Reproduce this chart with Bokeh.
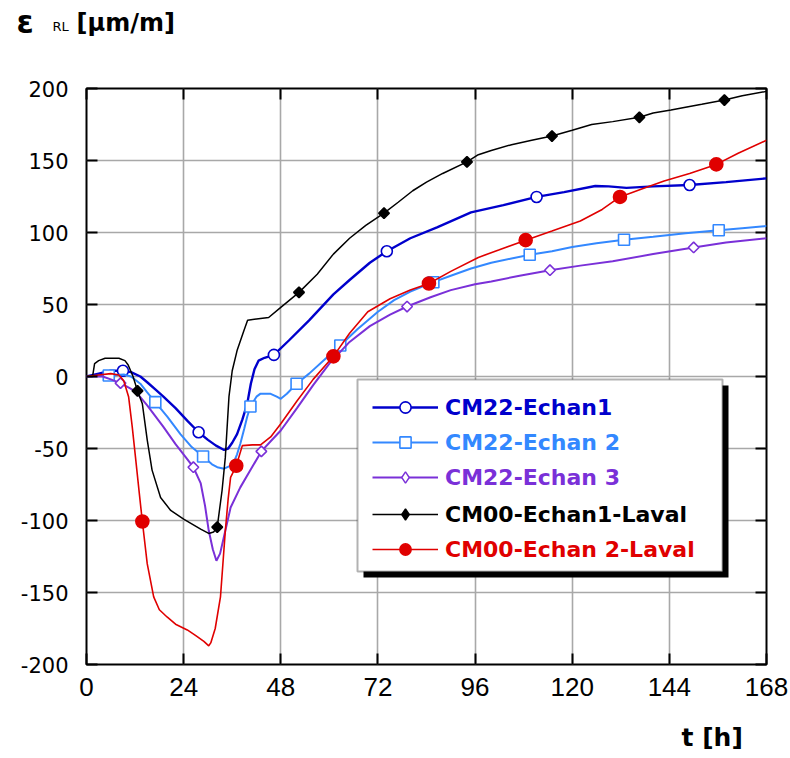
import numpy as np
from bokeh.plotting import figure
from bokeh.layouts import column
from bokeh.models import (Range1d, LinearAxis, FixedTicker, Legend, LegendItem,
                          BoxAnnotation)
from bokeh.core.properties import value
from bokeh.embed import file_html
from bokeh.resources import INLINE

# ---------------- data ----------------
X_TICKS = [0, 24, 48, 72, 96, 120, 144, 168]
Y_TICKS = [-200, -150, -100, -50, 0, 50, 100, 150, 200]

LABELS = ["CM22-Echan1", "CM22-Echan 2", "CM22-Echan 3",
          "CM00-Echan1-Laval", "CM00-Echan 2-Laval"]

# CM22-Echan1
t_e1 = [0, 3, 6, 9, 11, 13.3, 15, 17, 19, 22, 25, 27.7, 30, 32, 34, 35, 36, 37.2,
        38.5, 39.7, 40.6, 41.5, 42.5, 44, 46.3, 50, 55, 61, 65, 70, 74.2, 80, 86.6,
        95, 103, 111.2, 118, 125.7, 129, 133.4, 140, 149, 158, 168]
v_e1 = [0, 2, 4, 4, 3, 0, -4, -9, -14, -22, -31, -38.7, -44, -48, -51, -50, -46, -40,
        -30, -19, -5, 5, 11, 13, 15, 25, 39, 57, 67, 79, 87, 96, 103.5,
        114, 119, 124.7, 128, 132.3, 132, 131, 132, 133, 135, 137.6]
mt_e1 = [9, 27.7, 46.3, 74.2, 111.2, 149]
mv_e1 = [4, -38.7, 15, 87, 124.7, 133]

# CM22-Echan 2
t_e2 = [0, 3, 5.5, 9.2, 11, 13.3, 15, 17, 20, 23.2, 26, 28.8, 31, 32.3, 34, 35.5,
        36.4, 37.2, 38, 39, 39.7, 40.5, 42, 43, 45.5, 47, 48, 49.5, 51.9, 55, 58.5,
        62.7, 67, 72, 76, 80, 85.7, 90, 95, 100, 105, 109.5, 115, 120, 126, 132.8,
        140, 148, 156.2, 162, 168]
v_e2 = [0, 0.5, 0.7, 1.4, 0, -5, -11, -17.8, -28, -40, -49, -55.6, -61, -63, -64, -62,
        -59.5, -54, -46.7, -36, -28, -20.8, -14, -11.9, -12, -14, -15.5, -12, -5, 2, 11,
        21.5, 33, 45, 53, 59, 65.5, 70, 75, 79, 82, 84.5, 87, 90, 92.5, 95,
        97, 99.5, 101.6, 103, 104.5]
mt_e2 = [5.5, 17, 28.8, 40.5, 51.9, 62.7, 85.7, 109.5, 132.8, 156.2]
mv_e2 = [0.7, -17.8, -55.6, -20.8, -5, 21.5, 65.5, 84.5, 95, 101.6]

# CM22-Echan 3
t_e3 = [0, 4, 6, 8.4, 10, 12.1, 15, 19, 22, 24.5, 26.4, 28.2, 29.3, 30.2, 31.2, 32.1,
        33, 33.9, 35.6, 38, 40.5, 43.2, 45.5, 48, 52, 56, 60, 65, 70, 75, 79.2, 85,
        90, 96, 100, 107, 114.5, 122, 130, 140, 150, 158, 168]
v_e3 = [0, 0, -2, -4.6, -7, -10.4, -20, -35, -47, -56, -63, -74, -90, -107, -120, -128,
        -123, -112, -91, -77, -65, -52, -45, -37.5, -22, -6, 9, 24, 35, 43, 48.6, 55,
        60, 64, 66, 70, 73.8, 77, 80, 85, 89.6, 93, 96]
mt_e3 = [8.4, 26.4, 43.2, 79.2, 114.5, 150]
mv_e3 = [-4.6, -63, -52, 48.6, 73.8, 89.6]

# CM00-Echan1-Laval
t_l1 = [0, 1.5, 2, 3, 4.6, 8, 9.5, 10.3, 11.5, 12.6, 13.8, 15, 16.2, 18.3, 20.8, 24,
        28.2, 30.2, 31.4, 32.3, 33.5, 34.3, 35.2, 36, 37.2, 38.9, 39.8, 42, 45, 48,
        52.5, 57, 61, 65, 69, 73.5, 77, 80.6, 84, 88, 94, 96.8, 100, 105, 110, 115,
        120, 124.8, 130, 136.6, 140, 144.4, 148, 152, 157.6, 162, 168]
v_l1 = [0, 0, 9, 11, 12.7, 12.7, 11, 8, 0, -10, -19, -44, -65, -84, -93, -99,
        -106, -109, -108, -104.6, -79, -56, -14, 4, 18, 32, 39, 40, 41, 48,
        58.4, 71, 85, 96, 105, 113.4, 121, 129, 135, 141, 149, 154, 157, 161, 164, 167,
        171, 175, 177, 180, 183, 185, 187, 189, 192, 195, 198]
mt_l1 = [12.6, 32.3, 52.5, 73.5, 94, 115, 136.6, 157.6]
mv_l1 = [-10, -104.6, 58.4, 113.4, 149, 167, 180, 192]

# CM00-Echan 2-Laval
t_l2 = [0, 3, 6, 8, 9.2, 10.4, 11.3, 12.1, 13, 13.8, 15, 16.6, 18, 19.9, 22, 24.9, 27,
        29, 30.2, 30.7, 31.8, 33.1, 33.7, 34.3, 35, 35.6, 37, 38.5, 41, 43, 45.5, 48,
        52, 56, 61, 65, 69.5, 75, 80, 84.6, 90, 96.8, 102, 108.5, 115, 122, 127.4,
        131.8, 137, 142.7, 149, 155.6, 161, 168]
v_l2 = [0, 1, 2, 1, -3, -14, -35, -56, -80, -100.7, -130, -153, -162, -167, -172, -176, -180,
        -184, -187, -185, -175, -153, -130, -107, -85, -70, -62, -48, -47.5, -47.5, -42, -32.8,
        -17, -2, 14, 30, 45, 54, 60, 64.6, 73, 82.7, 88, 94.7, 101, 108, 116,
        124.7, 130, 135.8, 141, 147.3, 155, 164]
mt_l2 = [13.8, 37, 61, 84.6, 108.5, 131.8, 155.6]
mv_l2 = [-100.7, -62, 14, 64.6, 94.7, 124.7, 147.3]

# ---------------- layout / style ----------------
W, H = 790, 758
HEAD = 48                                  # header strip (y title)
FOOT = 42                                  # footer strip (x title)
BL, BR, BT, BB = 86, 24, 88, 94            # frame borders in the full canvas (px)
FW, FH = W - BL - BR, H - BT - BB
X0, X1, Y0, Y1 = 0, 168, -200, 200

def tx(px):   # canvas px -> t (for placing the legend frame)
    return X0 + (px - BL) / FW * (X1 - X0)

def vy(py):   # canvas py -> value
    return Y1 - (py - BT) / FH * (Y1 - Y0)

def no_align(fig):
    if "frame_align" in type(fig).properties():
        fig.frame_align = False

def strip(h):
    f = figure(frame_width=W, frame_height=h, x_range=Range1d(0, W), y_range=Range1d(h, 0),
               output_backend="svg", toolbar_location=None,
               x_axis_location=None, y_axis_location=None, min_border=0)
    f.outline_line_color = None
    f.grid.visible = False
    f.background_fill_color = "white"
    f.border_fill_color = "white"
    no_align(f)
    return f

# ---- header with the y-axis title ----
hp = strip(HEAD)
hp.text(x=[16], y=[21], text=["ε"], text_font=value("DejaVu Sans"),
        text_font_style="bold", text_font_size="31px", text_baseline="alphabetic",
        text_color="black")
hp.text(x=[52], y=[26], text=["RL"], text_font=value("DejaVu Sans"),
        text_font_size="13px", text_baseline="alphabetic", text_color="black")
hp.text(x=[76], y=[22], text=["[µm/m]"], text_font=value("DejaVu Sans"),
        text_font_style="bold", text_font_size="24px", text_baseline="alphabetic",
        text_color="black")

# ---- footer with the x-axis title ----
fp = strip(FOOT)
fp.text(x=[681], y=[21], text=["t [h]"], text_font=value("DejaVu Sans"),
        text_font_style="bold", text_font_size="25px", text_baseline="alphabetic",
        text_color="black")

# ---- main plot ----
p = figure(frame_width=FW, frame_height=FH, x_range=Range1d(X0, X1), y_range=Range1d(Y0, Y1),
           output_backend="svg", toolbar_location=None,
           min_border_left=BL, min_border_right=BR, min_border_top=BT - HEAD,
           min_border_bottom=BB - FOOT)
no_align(p)
p.background_fill_color = "white"
p.border_fill_color = "white"
p.outline_line_color = "black"
p.outline_line_width = 2

xt = FixedTicker(ticks=X_TICKS)
yt = FixedTicker(ticks=Y_TICKS)

def style_axis(ax):
    ax.axis_line_color = None
    ax.major_tick_in = 11
    ax.major_tick_out = 0
    ax.major_tick_line_color = "black"
    ax.major_tick_line_width = 2
    ax.minor_tick_line_color = None

xa = p.xaxis[0]
xa.ticker = xt
style_axis(xa)
xa.major_label_text_font = "Liberation Sans"
xa.major_label_text_font_size = "26px"
xa.major_label_text_color = "black"
xa.major_label_standoff = 13

ya = p.yaxis[0]
ya.ticker = yt
style_axis(ya)
ya.major_label_text_font = "DejaVu Sans"
ya.major_label_text_font_size = "21px"
ya.major_label_text_color = "black"
ya.major_label_standoff = 18
ya.major_label_overrides = {k: str(k) for k in Y_TICKS}

top = LinearAxis(ticker=FixedTicker(ticks=X_TICKS),
                 major_label_overrides={k: "" for k in X_TICKS})
style_axis(top)
p.add_layout(top, "above")
right = LinearAxis(ticker=FixedTicker(ticks=Y_TICKS),
                   major_label_overrides={k: "" for k in Y_TICKS})
style_axis(right)
p.add_layout(right, "right")

for g in (p.xgrid[0], p.ygrid[0]):
    g.grid_line_color = "#a8a8a8"
    g.grid_line_width = 1.6
p.xgrid[0].ticker = xt
p.ygrid[0].ticker = yt

# (t, v, marker t, marker v, colour, line width, marker, size, angle, fill, legend marker)
series = [
    (t_e1, v_e1, mt_e1, mv_e1, "#0000CC", 2.4, "circle", 11, 0, "white", "circle"),
    (t_e2, v_e2, mt_e2, mv_e2, "#3388FF", 2.0, "square", 11, 0, "white", "square"),
    (t_e3, v_e3, mt_e3, mv_e3, "#7A30D8", 2.0, "square", 7.5, np.pi / 4, "white", "diamond"),
    (t_l1, v_l1, mt_l1, mv_l1, "#000000", 1.5, "square", 7.5, np.pi / 4, "#000000", "diamond"),
    (t_l2, v_l2, mt_l2, mv_l2, "#E00000", 1.6, "circle", 13, 0, "#E00000", "circle"),
]

rends = []
for (t, v, mt, mv, col, lw, mk, sz, ang, fill, lmk) in series:
    lr = p.line(t, v, line_color=col, line_width=lw)
    key = None
    if lmk != mk:
        # key glyph (a true diamond); drawn under the rotated squares, hidden by them
        key = p.scatter(mt, mv, marker=lmk, size=8, fill_color=fill,
                        line_color=col, line_width=1.4)
    sr = p.scatter(mt, mv, marker=mk, size=sz, angle=ang, fill_color=fill,
                   line_color=col, line_width=1.6)
    rends.append((lr, key if key is not None else sr, col))

# legend frame with shadow
p.add_layout(BoxAnnotation(left=tx(363), right=tx(728), top=vy(385), bottom=vy(577),
                           fill_color="black", fill_alpha=1, line_color=None))
p.add_layout(BoxAnnotation(left=tx(357), right=tx(722), top=vy(379), bottom=vy(571),
                           fill_color="white", fill_alpha=1, line_color="black",
                           line_width=2))

ROW_Y = [407, 442, 477, 514, 549]   # canvas y of legend rows
ROW_H = 28
for (lr, sr, col), lab, ry in zip(rends, LABELS, ROW_Y):
    leg = Legend(items=[LegendItem(label=lab, renderers=[lr, sr])],
                 location=(372 - BL, (H - BB) - ry - ROW_H / 2),
                 padding=0, margin=0, spacing=0,
                 glyph_width=66, glyph_height=ROW_H, label_height=ROW_H,
                 label_standoff=7,
                 label_text_font="DejaVu Sans", label_text_font_style="bold",
                 label_text_font_size="22px", label_text_color=col,
                 label_text_baseline="middle",
                 border_line_alpha=0, background_fill_alpha=0)
    p.add_layout(leg, "center")

open("out.html", "w").write(file_html(column(hp, p, fp, spacing=0), INLINE))
